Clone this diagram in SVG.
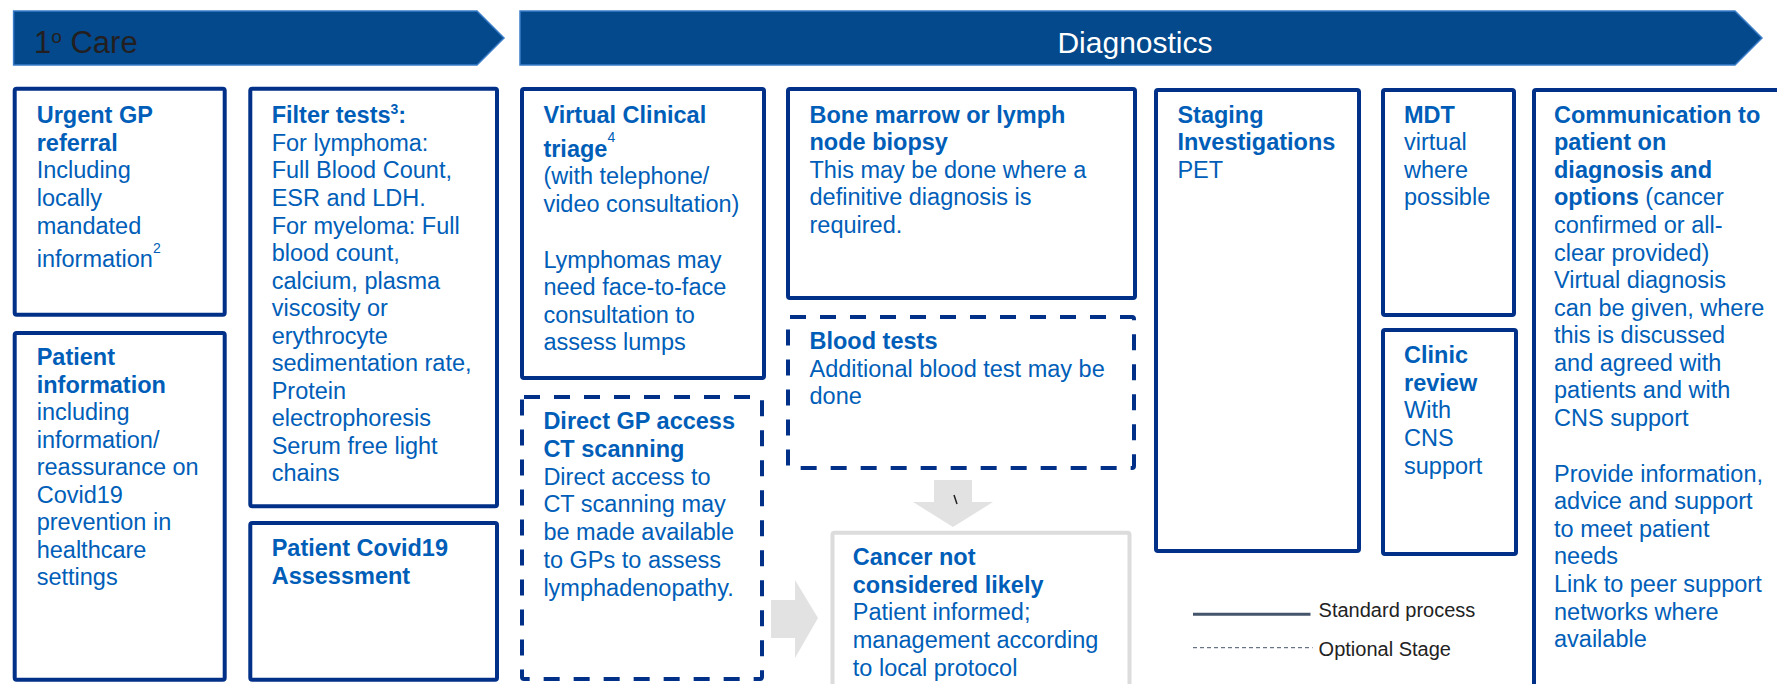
<svg xmlns="http://www.w3.org/2000/svg" width="1777" height="684" viewBox="0 0 1777 684">
<style>
.hdr{fill:#03498B;stroke:#3A7DC9;stroke-width:1.5}
.box{fill:#ffffff;stroke:#003087;stroke-width:4}
.dash{fill:#ffffff;stroke:#003087;stroke-width:4;stroke-dasharray:16 14}
.grey{fill:#ffffff;stroke:#DCDCDC;stroke-width:4}
.t{font-family:"Liberation Sans",Arial,sans-serif;font-size:23.5px;fill:#005EB8}
.b{font-weight:bold}
.sup{font-size:14px}
.arrow{fill:#E2E2E2}
.leg{font-family:"Liberation Sans",Arial,sans-serif;font-size:20px;fill:#222222}
</style>
<rect width="1777" height="684" fill="#ffffff"/>

<g id="header-care">
<polygon class="hdr" points="13.6,11 477,11 504,38 477,65 13.6,65"/>
<text x="34" y="53" style="font-family:'Liberation Sans',Arial,sans-serif;font-size:31px;fill:#231F20">1<tspan style="font-size:19px" dy="-10">o</tspan><tspan dy="10"> Care</tspan></text>
</g>
<g id="header-diagnostics">
<polygon class="hdr" points="520,11 1735,11 1762,38 1735,65 520,65"/>
<text x="1135" y="53" text-anchor="middle" style="font-family:'Liberation Sans',Arial,sans-serif;font-size:30px;fill:#ffffff">Diagnostics</text>
</g>

<g id="connectors">
<polygon class="arrow" points="934,480 972,480 972,502 993,502 953,527 913,502 934,502"/>
<line x1="954" y1="495" x2="957" y2="504" stroke="#222" stroke-width="1.5"/>
<polygon class="arrow" points="771,600 795,600 795,580 818,618 795,658 795,638 771,638"/>
</g>

<g id="urgent-gp">
<rect class="box" x="14.7" y="88.7" width="210" height="226" rx="2"/>
<text class="t"><tspan class="b" x="36.7" y="123.3">Urgent GP</tspan><tspan class="b" x="36.7" y="150.8">referral</tspan><tspan x="36.7" y="178.4">Including</tspan><tspan x="36.7" y="206">locally</tspan><tspan x="36.7" y="233.5">mandated</tspan><tspan x="36.7" y="267">information</tspan><tspan class="sup" dy="-14">2</tspan></text>
</g>

<g id="patient-information">
<rect class="box" x="14.7" y="333" width="210" height="346.7" rx="2"/>
<text class="t"><tspan class="b" x="36.7" y="365">Patient</tspan><tspan class="b" x="36.7" y="392.6">information</tspan><tspan x="36.7" y="420.1">including</tspan><tspan x="36.7" y="447.7">information/</tspan><tspan x="36.7" y="475.2">reassurance on</tspan><tspan x="36.7" y="502.8">Covid19</tspan><tspan x="36.7" y="530.3">prevention in</tspan><tspan x="36.7" y="557.9">healthcare</tspan><tspan x="36.7" y="585.4">settings</tspan></text>
</g>

<g id="filter-tests">
<rect class="box" x="250.3" y="88.7" width="246.7" height="417.6" rx="2"/>
<text class="t"><tspan class="b" x="271.7" y="123.3">Filter tests</tspan><tspan class="b sup" dy="-9">3</tspan><tspan class="b" dy="9">:</tspan><tspan x="271.7" y="150.8">For lymphoma:</tspan><tspan x="271.7" y="178.4">Full Blood Count,</tspan><tspan x="271.7" y="206">ESR and LDH.</tspan><tspan x="271.7" y="233.5">For myeloma: Full</tspan><tspan x="271.7" y="261">blood count,</tspan><tspan x="271.7" y="288.6">calcium, plasma</tspan><tspan x="271.7" y="316.1">viscosity or</tspan><tspan x="271.7" y="343.7">erythrocyte</tspan><tspan x="271.7" y="371.2">sedimentation rate,</tspan><tspan x="271.7" y="398.8">Protein</tspan><tspan x="271.7" y="426.3">electrophoresis</tspan><tspan x="271.7" y="453.9">Serum free light</tspan><tspan x="271.7" y="481.4">chains</tspan></text>
</g>

<g id="patient-covid">
<rect class="box" x="250.3" y="523" width="246.7" height="156.7" rx="2"/>
<text class="t b"><tspan x="271.7" y="556">Patient Covid19</tspan><tspan x="271.7" y="583.5">Assessment</tspan></text>
</g>

<g id="virtual-triage">
<rect class="box" x="522" y="89" width="242" height="289" rx="2"/>
<text class="t"><tspan class="b" x="543.4" y="122.7">Virtual Clinical</tspan><tspan class="b" x="543.4" y="156.7">triage</tspan><tspan class="sup" dy="-14.5">4</tspan><tspan x="543.4" y="184.2">(with telephone/</tspan><tspan x="543.4" y="211.7">video consultation)</tspan><tspan x="543.4" y="267.7">Lymphomas may</tspan><tspan x="543.4" y="295.2">need face-to-face</tspan><tspan x="543.4" y="322.7">consultation to</tspan><tspan x="543.4" y="350.2">assess lumps</tspan></text>
</g>

<g id="direct-gp-ct">
<rect class="dash" x="522" y="397" width="240" height="282" rx="2"/>
<text class="t"><tspan class="b" x="543.4" y="429.3">Direct GP access</tspan><tspan class="b" x="543.4" y="457">CT scanning</tspan><tspan x="543.4" y="484.7">Direct access to</tspan><tspan x="543.4" y="512.4">CT scanning may</tspan><tspan x="543.4" y="540.1">be made available</tspan><tspan x="543.4" y="567.8">to GPs to assess</tspan><tspan x="543.4" y="595.5">lymphadenopathy.</tspan></text>
</g>

<g id="biopsy">
<rect class="box" x="788" y="89" width="347" height="209" rx="2"/>
<text class="t"><tspan class="b" x="809.5" y="122.7">Bone marrow or lymph</tspan><tspan class="b" x="809.5" y="150.3">node biopsy</tspan><tspan x="809.5" y="177.8">This may be done where a</tspan><tspan x="809.5" y="205.4">definitive diagnosis is</tspan><tspan x="809.5" y="232.9">required.</tspan></text>
</g>

<g id="blood-tests">
<rect class="dash" x="788" y="317" width="346" height="151" rx="2"/>
<text class="t"><tspan class="b" x="809.5" y="349.3">Blood tests</tspan><tspan x="809.5" y="376.8">Additional blood test may be</tspan><tspan x="809.5" y="404.3">done</tspan></text>
</g>

<g id="cancer-not-likely">
<rect class="grey" x="832.5" y="532.7" width="297" height="180" rx="2"/>
<text class="t"><tspan class="b" x="852.8" y="565">Cancer not</tspan><tspan class="b" x="852.8" y="592.7">considered likely</tspan><tspan x="852.8" y="620.4">Patient informed;</tspan><tspan x="852.8" y="648.1">management according</tspan><tspan x="852.8" y="675.8">to local protocol</tspan></text>
</g>

<g id="staging">
<rect class="box" x="1156" y="90" width="203" height="461" rx="2"/>
<text class="t"><tspan class="b" x="1177.4" y="122.7">Staging</tspan><tspan class="b" x="1177.4" y="150.3">Investigations</tspan><tspan x="1177.4" y="177.8">PET</tspan></text>
</g>

<g id="mdt">
<rect class="box" x="1383" y="90" width="131" height="225" rx="2"/>
<text class="t"><tspan class="b" x="1404" y="122.7">MDT</tspan><tspan x="1404" y="150.3">virtual</tspan><tspan x="1404" y="177.8">where</tspan><tspan x="1404" y="205.4">possible</tspan></text>
</g>

<g id="clinic-review">
<rect class="box" x="1383" y="330" width="133" height="224" rx="2"/>
<text class="t"><tspan class="b" x="1404" y="363.3">Clinic</tspan><tspan class="b" x="1404" y="390.8">review</tspan><tspan x="1404" y="418.4">With</tspan><tspan x="1404" y="445.9">CNS</tspan><tspan x="1404" y="473.5">support</tspan></text>
</g>

<g id="communication">
<rect class="box" x="1534" y="90" width="270" height="620" rx="2"/>
<text class="t"><tspan class="b" x="1554" y="122.7">Communication to</tspan><tspan class="b" x="1554" y="150.3">patient on</tspan><tspan class="b" x="1554" y="177.8">diagnosis and</tspan><tspan class="b" x="1554" y="205.4">options</tspan><tspan> (cancer</tspan><tspan x="1554" y="232.9">confirmed or all-</tspan><tspan x="1554" y="260.5">clear provided)</tspan><tspan x="1554" y="288">Virtual diagnosis</tspan><tspan x="1554" y="315.6">can be given, where</tspan><tspan x="1554" y="343.1">this is discussed</tspan><tspan x="1554" y="370.7">and agreed with</tspan><tspan x="1554" y="398.2">patients and with</tspan><tspan x="1554" y="425.8">CNS support</tspan><tspan x="1554" y="481.7">Provide information,</tspan><tspan x="1554" y="509.3">advice and support</tspan><tspan x="1554" y="536.8">to meet patient</tspan><tspan x="1554" y="564.4">needs</tspan><tspan x="1554" y="591.9">Link to peer support</tspan><tspan x="1554" y="619.5">networks where</tspan><tspan x="1554" y="647">available</tspan></text>
</g>

<g id="legend">
<line x1="1193" y1="614.3" x2="1310.5" y2="614.3" stroke="#44546A" stroke-width="3"/>
<text class="leg" x="1318.6" y="617.3">Standard process</text>
<line x1="1193" y1="647.7" x2="1312.6" y2="647.7" stroke="#44546A" stroke-width="1" stroke-dasharray="4 3"/>
<text class="leg" x="1318.6" y="656">Optional Stage</text>
</g>
</svg>
